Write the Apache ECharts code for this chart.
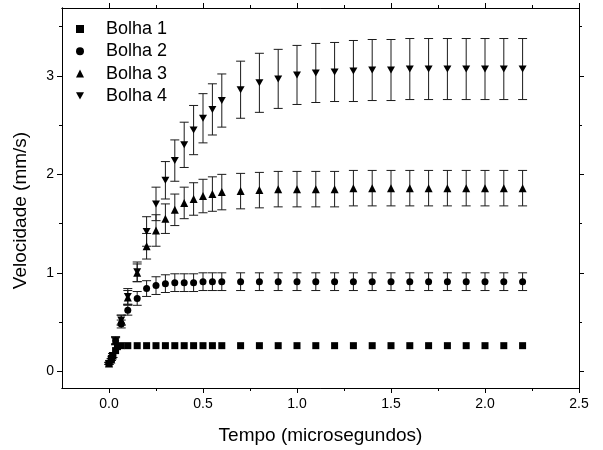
<!DOCTYPE html>
<html>
<head>
<meta charset="utf-8">
<script src="https://cdn.jsdelivr.net/npm/echarts@6/dist/echarts.min.js"></script>
<style>html,body{margin:0;padding:0;background:#fff}#c{width:603px;height:450px}</style>
</head>
<body>
<div id="c"></div>
<script>
// ---- data ----
const seriesNames = ['Bolha 1', 'Bolha 2', 'Bolha 3', 'Bolha 4'];
const timesB1 = [0.0, 0.0125, 0.02, 0.035, 0.045, 0.065, 0.1, 0.15, 0.2, 0.25, 0.3, 0.35, 0.4, 0.45, 0.5, 0.55, 0.6,
  0.7, 0.8, 0.9, 1.0, 1.1, 1.2, 1.3, 1.4, 1.5, 1.6, 1.7, 1.8, 1.9, 2.0, 2.1, 2.2];
const bolha1 = [0.08, 0.13, 0.16, 0.21, 0.25, 0.26, 0.26, 0.26, 0.26, 0.26, 0.26, 0.26, 0.26, 0.26, 0.26, 0.26, 0.26,
  0.26, 0.26, 0.26, 0.26, 0.26, 0.26, 0.26, 0.26, 0.26, 0.26, 0.26, 0.26, 0.26, 0.26, 0.26, 0.26];
const times = [0.0, 0.0125, 0.02, 0.035, 0.065, 0.1, 0.15, 0.2, 0.25, 0.3, 0.35, 0.4, 0.45, 0.5, 0.55, 0.6,
  0.7, 0.8, 0.9, 1.0, 1.1, 1.2, 1.3, 1.4, 1.5, 1.6, 1.7, 1.8, 1.9, 2.0, 2.1, 2.2];
const bolha2 = [0.08, 0.12, 0.16, 0.31, 0.48, 0.62, 0.74, 0.84, 0.87, 0.89, 0.90, 0.90, 0.90, 0.91, 0.91, 0.91,
  0.91, 0.91, 0.91, 0.91, 0.91, 0.91, 0.91, 0.91, 0.91, 0.91, 0.91, 0.91, 0.91, 0.91, 0.91, 0.91];
const bolha2Err = [0.01, 0.01, 0.02, 0.03, 0.04, 0.05, 0.07, 0.08, 0.09, 0.09, 0.09, 0.09, 0.09, 0.09, 0.09, 0.09,
  0.09, 0.09, 0.09, 0.09, 0.09, 0.09, 0.09, 0.09, 0.09, 0.09, 0.09, 0.09, 0.09, 0.09, 0.09, 0.09];
const bolha3 = [0.08, 0.12, 0.16, 0.31, 0.52, 0.75, 1.00, 1.27, 1.43, 1.55, 1.64, 1.71, 1.75, 1.78, 1.80, 1.82,
  1.83, 1.84, 1.85, 1.85, 1.85, 1.85, 1.86, 1.86, 1.86, 1.86, 1.86, 1.86, 1.86, 1.86, 1.86, 1.86];
const bolha3Err = [0.01, 0.01, 0.02, 0.04, 0.05, 0.07, 0.09, 0.13, 0.16, 0.15, 0.16, 0.16, 0.165, 0.17, 0.175, 0.18,
  0.18, 0.18, 0.18, 0.18, 0.18, 0.18, 0.18, 0.18, 0.18, 0.18, 0.18, 0.18, 0.18, 0.18, 0.18, 0.18];
const bolha4 = [0.08, 0.12, 0.16, 0.31, 0.52, 0.76, 1.01, 1.42, 1.70, 1.94, 2.14, 2.30, 2.45, 2.57, 2.66, 2.75,
  2.86, 2.93, 2.97, 3.01, 3.03, 3.04, 3.05, 3.06, 3.06, 3.07, 3.07, 3.07, 3.07, 3.07, 3.07, 3.07];
const bolha4Err = [0.01, 0.01, 0.02, 0.04, 0.05, 0.08, 0.10, 0.15, 0.17, 0.19, 0.21, 0.23, 0.25, 0.25, 0.26, 0.27,
  0.29, 0.30, 0.30, 0.30, 0.30, 0.30, 0.31, 0.31, 0.31, 0.31, 0.31, 0.31, 0.31, 0.31, 0.31, 0.31];
const xMajorTicks = [0, 0.5, 1.0, 1.5, 2.0, 2.5];
const xMinorTicks = [0.25, 0.75, 1.25, 1.75, 2.25];
const yMajorTicks = [0, 1, 2, 3];
const yMinorTicks = [0.5, 1.5, 2.5, 3.5];
const xTitle = 'Tempo (microsegundos)';
const yTitle = 'Velocidade (mm/s)';

// ---- build ----
const FONT = 'Arial, "Liberation Sans", sans-serif';
const pts = (ts, vs) => ts.map((t, i) => [t, vs[i]]);
const errPts = (ts, vs, es) => ts.map((t, i) => [t, vs[i], es[i]]);

function errorBars(data) {
  return {
    type: 'custom', xAxisIndex: 0, yAxisIndex: 0, silent: true, z: 1,
    data: data,
    renderItem: function (params, api) {
      const x = api.value(0), y = api.value(1), e = api.value(2);
      const top = api.coord([x, y + e]);
      const bot = api.coord([x, y - e]);
      const w = 4.5;
      const style = { stroke: '#1a1a1a', lineWidth: 1, fill: null };
      return {
        type: 'group',
        children: [
          { type: 'line', shape: { x1: top[0], y1: top[1], x2: bot[0], y2: bot[1] }, style: style },
          { type: 'line', shape: { x1: top[0] - w, y1: top[1], x2: top[0] + w, y2: top[1] }, style: style },
          { type: 'line', shape: { x1: bot[0] - w, y1: bot[1], x2: bot[0] + w, y2: bot[1] }, style: style }
        ]
      };
    }
  };
}

const XMIN = -0.25, XMAX = 2.5, YMIN = -0.17, YMAX = 3.69;
const axisLineStyle = { color: '#000', width: 1 };
function xAx(pos, ticks, len, labels) {
  return {
    type: 'value', position: pos, min: XMIN, max: XMAX,
    axisLine: { show: true, onZero: false, lineStyle: axisLineStyle },
    axisTick: { show: true, inside: false, length: len, customValues: ticks, lineStyle: axisLineStyle },
    axisLabel: { show: labels, customValues: ticks, formatter: v => v.toFixed(1), color: '#000', fontFamily: FONT, fontSize: 14, margin: 9 },
    splitLine: { show: false },
    name: (labels ? xTitle : ''), nameLocation: 'middle', nameGap: 38,
    nameTextStyle: { color: '#000', fontFamily: FONT, fontSize: 19 }
  };
}
function yAx(pos, ticks, len, labels) {
  return {
    type: 'value', position: pos, min: YMIN, max: YMAX,
    axisLine: { show: true, onZero: false, lineStyle: axisLineStyle },
    axisTick: { show: true, inside: false, length: len, customValues: ticks, lineStyle: axisLineStyle },
    axisLabel: { show: labels, customValues: ticks, formatter: v => String(Math.round(v)), color: '#000', fontFamily: FONT, fontSize: 14, margin: 8 },
    splitLine: { show: false },
    name: (labels ? yTitle : ''), nameLocation: 'middle', nameGap: 32,
    nameTextStyle: { color: '#000', fontFamily: FONT, fontSize: 19, padding: [0, 25, 0, 0] }
  };
}

const option = {
  backgroundColor: '#fff',
  animation: false,
  grid: { left: 62, right: 24, top: 8, bottom: 59, containLabel: false },
  legend: {
    orient: 'vertical', left: 76, top: 20, padding: 0,
    itemWidth: 8, itemHeight: 8, itemGap: 4.3,
    data: seriesNames,
    textStyle: { color: '#000', fontFamily: FONT, fontSize: 18, padding: [0, 0, 0, 17] }
  },
  xAxis: [
    xAx('bottom', xMajorTicks, 5, true),
    xAx('bottom', xMinorTicks, 3, false),
    xAx('top', xMajorTicks, 5, false),
    xAx('top', xMinorTicks, 3, false)
  ],
  yAxis: [
    yAx('left', yMajorTicks, 5, true),
    yAx('left', yMinorTicks, 3, false),
    yAx('right', yMajorTicks, 5, false),
    yAx('right', yMinorTicks, 3, false)
  ],
  series: [
    errorBars(errPts(times, bolha2, bolha2Err)),
    errorBars(errPts(times, bolha3, bolha3Err)),
    errorBars(errPts(times, bolha4, bolha4Err)),
    { name: seriesNames[0], type: 'scatter', z: 3, symbol: 'rect', symbolSize: 7,
      itemStyle: { color: '#000', opacity: 1 }, data: pts(timesB1, bolha1) },
    { name: seriesNames[1], type: 'scatter', z: 3, symbol: 'circle', symbolSize: 7,
      itemStyle: { color: '#000', opacity: 1 }, data: pts(times, bolha2) },
    { name: seriesNames[2], type: 'scatter', z: 3, symbol: 'triangle', symbolSize: 8,
      itemStyle: { color: '#000', opacity: 1 }, data: pts(times, bolha3) },
    { name: seriesNames[3], type: 'scatter', z: 3, symbol: 'path://M0,0 L10,0 L5,9 Z', symbolSize: [8, 7],
      itemStyle: { color: '#000', opacity: 1 }, data: pts(times, bolha4) }
  ]
};
const chart = echarts.init(document.getElementById('c'), null, { renderer: 'canvas' });
chart.setOption(option);
</script>
</body>
</html>
